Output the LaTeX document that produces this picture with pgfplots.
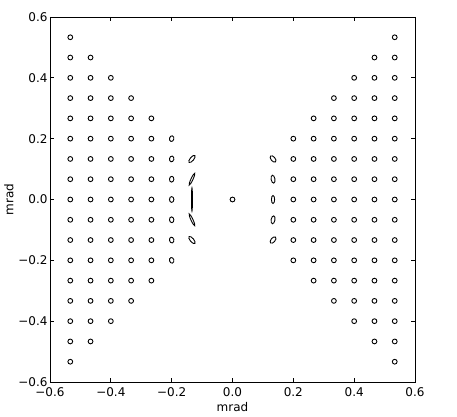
\documentclass[border=0pt]{standalone}
\usepackage{pgfplots}
\pgfplotsset{compat=1.18}
\usepackage{fontspec}
\setmainfont{DejaVu Sans}
\pgfdeclareplotmark{nothing}{}
\newcommand{\lblfont}{\fontsize{12bp}{14bp}\selectfont}
\begin{document}
\begin{tikzpicture}
\begin{axis}[
  name=ax,
  scale only axis,
  width=365bp, height=365bp,
  xmin=-0.6, xmax=0.6, ymin=-0.6, ymax=0.6,
  xtick={-0.6,-0.4,-0.2,0,0.2,0.4,0.6},
  ytick={-0.6,-0.4,-0.2,0,0.2,0.4,0.6},
  xticklabels={−0.6,−0.4,−0.2,0.0,0.2,0.4,0.6},
  yticklabels={−0.6,−0.4,−0.2,0.0,0.2,0.4,0.6},
  tick align=inside,
  major tick length=4bp,
  minor tick num=0,
  axis line style={line width=0.9bp, black},
  tick style={line width=0.7bp, black},
  tick label style={font=\lblfont},
  label style={font=\lblfont},
  xlabel={mrad}, ylabel={mrad},
  xlabel style={yshift=1bp},
  ylabel style={yshift=-2bp},
  xticklabel style={yshift=-2bp},
  yticklabel style={xshift=1bp},
]
% regular circular footprints
\addplot[only marks, mark=o, mark size=2.4bp, mark options={line width=0.9bp, black}] coordinates {
(-0.5333,-0.5333) (-0.5333,-0.4667) (-0.5333,-0.4) (-0.5333,-0.3333) (-0.5333,-0.2667) (-0.5333,-0.2) (-0.5333,-0.1333) (-0.5333,-0.0667) (-0.5333,0) (-0.5333,0.0667) (-0.5333,0.1333) (-0.5333,0.2) (-0.5333,0.2667) (-0.5333,0.3333) (-0.5333,0.4) (-0.5333,0.4667) (-0.5333,0.5333)
(-0.4667,-0.4667) (-0.4667,-0.4) (-0.4667,-0.3333) (-0.4667,-0.2667) (-0.4667,-0.2) (-0.4667,-0.1333) (-0.4667,-0.0667) (-0.4667,0) (-0.4667,0.0667) (-0.4667,0.1333) (-0.4667,0.2) (-0.4667,0.2667) (-0.4667,0.3333) (-0.4667,0.4) (-0.4667,0.4667)
(-0.4,-0.4) (-0.4,-0.3333) (-0.4,-0.2667) (-0.4,-0.2) (-0.4,-0.1333) (-0.4,-0.0667) (-0.4,0) (-0.4,0.0667) (-0.4,0.1333) (-0.4,0.2) (-0.4,0.2667) (-0.4,0.3333) (-0.4,0.4)
(-0.3333,-0.3333) (-0.3333,-0.2667) (-0.3333,-0.2) (-0.3333,-0.1333) (-0.3333,-0.0667) (-0.3333,0) (-0.3333,0.0667) (-0.3333,0.1333) (-0.3333,0.2) (-0.3333,0.2667) (-0.3333,0.3333)
(-0.2667,-0.2667) (-0.2667,-0.2) (-0.2667,-0.1333) (-0.2667,-0.0667) (-0.2667,0) (-0.2667,0.0667) (-0.2667,0.1333) (-0.2667,0.2) (-0.2667,0.2667)
(0,0)
(0.2,-0.2) (0.2,-0.1333) (0.2,-0.0667) (0.2,0) (0.2,0.0667) (0.2,0.1333) (0.2,0.2)
(0.2667,-0.2667) (0.2667,-0.2) (0.2667,-0.1333) (0.2667,-0.0667) (0.2667,0) (0.2667,0.0667) (0.2667,0.1333) (0.2667,0.2) (0.2667,0.2667)
(0.3333,-0.3333) (0.3333,-0.2667) (0.3333,-0.2) (0.3333,-0.1333) (0.3333,-0.0667) (0.3333,0) (0.3333,0.0667) (0.3333,0.1333) (0.3333,0.2) (0.3333,0.2667) (0.3333,0.3333)
(0.4,-0.4) (0.4,-0.3333) (0.4,-0.2667) (0.4,-0.2) (0.4,-0.1333) (0.4,-0.0667) (0.4,0) (0.4,0.0667) (0.4,0.1333) (0.4,0.2) (0.4,0.2667) (0.4,0.3333) (0.4,0.4)
(0.4667,-0.4667) (0.4667,-0.4) (0.4667,-0.3333) (0.4667,-0.2667) (0.4667,-0.2) (0.4667,-0.1333) (0.4667,-0.0667) (0.4667,0) (0.4667,0.0667) (0.4667,0.1333) (0.4667,0.2) (0.4667,0.2667) (0.4667,0.3333) (0.4667,0.4) (0.4667,0.4667)
(0.5333,-0.5333) (0.5333,-0.4667) (0.5333,-0.4) (0.5333,-0.3333) (0.5333,-0.2667) (0.5333,-0.2) (0.5333,-0.1333) (0.5333,-0.0667) (0.5333,0) (0.5333,0.0667) (0.5333,0.1333) (0.5333,0.2) (0.5333,0.2667) (0.5333,0.3333) (0.5333,0.4) (0.5333,0.4667) (0.5333,0.5333)
};
% elongated footprints near the centre: semi-axes a, b (bp) and angle of a (deg)
\addplot[scatter, only marks, mark=nothing,
  visualization depends on={\thisrow{a}\as\ea},
  visualization depends on={\thisrow{b}\as\eb},
  visualization depends on={\thisrow{ang}\as\eang},
  scatter/@pre marker code/.code={%
    \pgfscope
    \pgfsetlinewidth{0.9bp}%
    \pgfsetstrokecolor{black}%
    \pgftransformrotate{\eang}%
    \pgfpathellipse{\pgfpointorigin}{\pgfpoint{\ea bp}{0pt}}{\pgfpoint{0pt}{\eb bp}}%
    \pgfusepath{stroke}%
    \endpgfscope},
  scatter/@post marker code/.code={},
] table {
x y a b ang
-0.2 0.2 2.9 2.2 75
-0.2 0.1333 2.9 2.2 78
-0.2 0.0667 2.9 2.2 84
-0.2 0 2.9 2.2 90
-0.2 -0.0667 2.9 2.2 96
-0.2 -0.1333 2.9 2.2 102
-0.2 -0.2 2.9 2.2 105
-0.1333 0.1333 4.5 1.8 50
-0.1333 0.0667 6.5 1.0 65
-0.1333 0 11.5 0.5 90
-0.1333 -0.0667 6.5 1.0 115
-0.1333 -0.1333 4.5 1.8 130
0.1333 0.1333 3.8 2.1 130
0.1333 0.0667 4.0 1.9 100
0.1333 0 4.0 1.6 90
0.1333 -0.0667 4.0 1.9 80
0.1333 -0.1333 3.8 2.1 50
};
\end{axis}
\path (ax.south west) ++(-50bp,-35bp) rectangle ++(457bp,417bp);
\end{tikzpicture}
\end{document}
